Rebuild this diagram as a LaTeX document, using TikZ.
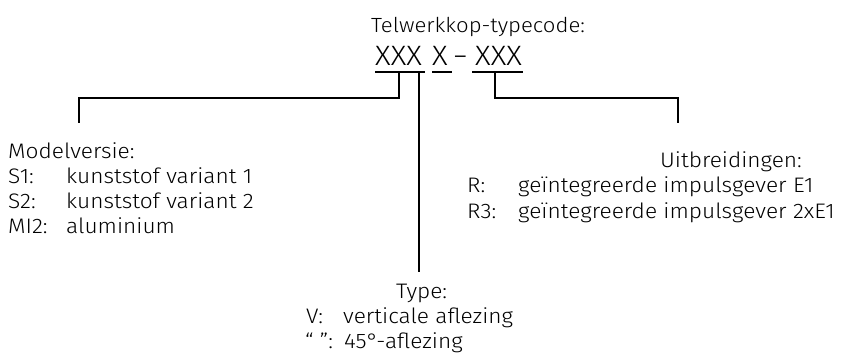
\documentclass[tikz,border=0pt]{standalone}
\usepackage{fontspec}
\usepackage{graphicx}
\setmainfont{Fira Sans Light}[FakeStretch=1.08]
\begin{document}
\begin{tikzpicture}[x=1pt,y=-1pt,
  txt/.style={inner sep=0pt, anchor=base west, font=\fontsize{21}{25}\selectfont},
  ttl/.style={inner sep=0pt, anchor=base west, font=\fontsize{20.5}{25}\selectfont},
  code/.style={inner sep=0pt, anchor=base west, font=\fontsize{28}{32}\selectfont},
  conn/.style={line width=2.6pt, line cap=butt, line join=miter}]
\useasboundingbox (0,0) rectangle (842,354);

% title and code
\node[ttl] (title) at (371,32) {Telwerkkop-typecode:};
\node[code] (c1) at (375,65) {XXX};
\node[code] (c2) at (432,65) {X};
\node[code] (dash) at (454,65) {\scalebox{0.8}[1]{–}};
\node[code] (c3) at (475,65) {XXX};

% underlines
\coordinate (u1a) at (375,72); \coordinate (u1b) at (425,72);
\coordinate (u2a) at (432,72); \coordinate (u2b) at (452,72);
\coordinate (u3a) at (472,72); \coordinate (u3b) at (523,72);
\draw[conn] (u1a) -- (u1b);
\draw[conn] (u2a) -- (u2b);
\draw[conn] (u3a) -- (u3b);

% connectors
\coordinate (m0) at (399,72); \coordinate (m1) at (79,123);
\coordinate (t0) at (419,72); \coordinate (t1) at (419,272);
\coordinate (r0) at (495,72); \coordinate (r1) at (678,123);
\draw[conn] (m0) -- ++(0,26) -| (m1);
\draw[conn] (t0) -- (t1);
\draw[conn] (r0) -- ++(0,26) -| (r1);

% Modelversie
\node[txt] (mh) at (8,158) {Modelversie:};
\node[txt] (ms1) at (8,183) {S1:};
\node[txt] (mv1) at (66,183) {kunststof variant 1};
\node[txt] (ms2) at (8,208) {S2:};
\node[txt] (mv2) at (66,208) {kunststof variant 2};
\node[txt] (ms3) at (8,233) {MI2:};
\node[txt] (mv3) at (66,233) {aluminium};

% Uitbreidingen
\node[txt] (uh) at (660,167) {Uitbreidingen:};
\node[txt] (us1) at (467,192) {R:};
\node[txt] (uv1) at (518,192) {geïntegreerde impulsgever E1};
\node[txt] (us2) at (467,218) {R3:};
\node[txt] (uv2) at (518,218) {geïntegreerde impulsgever 2xE1};

% Type
\node[txt] (th) at (396,298) {Type:};
\node[txt] (ts1) at (306,323) {V:};
\node[txt] (tv1) at (343,323) {verticale aflezing};
\node[txt] (ts2) at (305,348) {“ ”:};
\node[txt] (tv2) at (344,348) {45°-aflezing};
\end{tikzpicture}
\end{document}
